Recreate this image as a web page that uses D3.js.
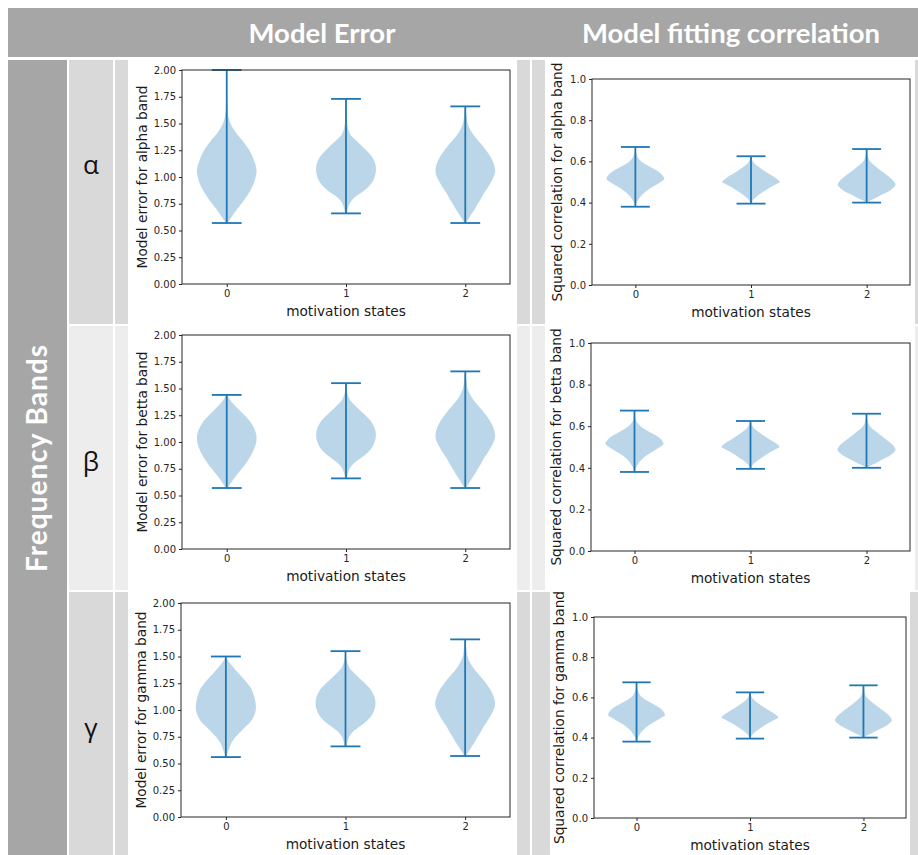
<!DOCTYPE html>
<html lang="en">
<head>
<meta charset="UTF-8">
<title>Model error and fitting correlation per band</title>
<script src="https://cdn.jsdelivr.net/npm/d3@7"></script>
<style>
    body{margin:0;background:#fff;}
    svg{display:block;}
</style>
</head>
<body>
<svg></svg>
<script>
    // categories / labels
    var states = [0, 1, 2];
    var bandNames = ["alpha", "betta", "gamma"];
    var greekLetters = ["α", "β", "γ"];
    var columnTitles = ["Model Error", "Model fitting correlation"];
    var errorTicks = [0, 0.25, 0.5, 0.75, 1.0, 1.25, 1.5, 1.75, 2.0];
    var corrTicks = [0, 0.2, 0.4, 0.6, 0.8, 1.0];

    // violin outlines: [value, relative width]
    // first / last entry = min / max whisker
    var errorAlpha = [
        [[0.57,0.03],[0.60,0.10],[0.65,0.22],[0.70,0.35],[0.75,0.49],[0.80,0.62],[0.85,0.74],[0.90,0.84],[0.95,0.92],[1.00,0.97],[1.05,1.00],[1.10,0.98],[1.15,0.92],[1.20,0.85],[1.25,0.76],[1.30,0.64],[1.35,0.50],[1.40,0.35],[1.45,0.22],[1.50,0.13],[1.55,0.07],[1.60,0.04],[1.70,0.02],[1.85,0.01],[2.00,0.0]],
        [[0.66,0.03],[0.70,0.06],[0.75,0.12],[0.80,0.25],[0.85,0.50],[0.90,0.72],[0.95,0.88],[1.00,0.96],[1.05,1.00],[1.10,1.00],[1.15,0.95],[1.20,0.84],[1.25,0.68],[1.30,0.50],[1.35,0.30],[1.40,0.14],[1.45,0.07],[1.50,0.04],[1.60,0.02],[1.73,0.0]],
        [[0.57,0.03],[0.60,0.09],[0.65,0.20],[0.70,0.32],[0.75,0.42],[0.80,0.53],[0.85,0.63],[0.90,0.75],[0.95,0.86],[1.00,0.95],[1.05,1.00],[1.10,0.98],[1.15,0.92],[1.20,0.82],[1.25,0.70],[1.30,0.56],[1.35,0.40],[1.40,0.26],[1.45,0.15],[1.50,0.08],[1.55,0.05],[1.60,0.03],[1.66,0.0]]
    ];
    var errorBeta = [
        [[0.57,0.03],[0.60,0.10],[0.65,0.22],[0.70,0.36],[0.75,0.50],[0.80,0.64],[0.85,0.76],[0.90,0.86],[0.95,0.94],[1.00,0.99],[1.05,1.00],[1.10,0.96],[1.15,0.88],[1.20,0.76],[1.25,0.60],[1.30,0.42],[1.35,0.24],[1.40,0.10],[1.44,0.02]],
        [[0.66,0.03],[0.70,0.06],[0.75,0.12],[0.80,0.26],[0.85,0.50],[0.90,0.72],[0.95,0.88],[1.00,0.96],[1.05,1.00],[1.10,0.99],[1.15,0.93],[1.20,0.82],[1.25,0.65],[1.30,0.46],[1.35,0.27],[1.40,0.12],[1.45,0.05],[1.50,0.02],[1.55,0.0]],
        [[0.57,0.03],[0.60,0.09],[0.65,0.20],[0.70,0.32],[0.75,0.42],[0.80,0.53],[0.85,0.63],[0.90,0.75],[0.95,0.86],[1.00,0.95],[1.05,1.00],[1.10,0.98],[1.15,0.92],[1.20,0.82],[1.25,0.70],[1.30,0.56],[1.35,0.40],[1.40,0.26],[1.45,0.15],[1.50,0.08],[1.55,0.05],[1.60,0.03],[1.66,0.0]]
    ];
    var errorGamma = [
        [[0.56,0.02],[0.60,0.06],[0.65,0.12],[0.70,0.20],[0.75,0.33],[0.80,0.50],[0.85,0.68],[0.90,0.85],[0.95,0.95],[1.00,1.00],[1.05,1.00],[1.10,0.97],[1.15,0.92],[1.20,0.85],[1.25,0.72],[1.30,0.57],[1.35,0.40],[1.40,0.25],[1.45,0.10],[1.50,0.0]],
        [[0.66,0.03],[0.70,0.06],[0.75,0.12],[0.80,0.26],[0.85,0.50],[0.90,0.72],[0.95,0.88],[1.00,0.96],[1.05,1.00],[1.10,0.99],[1.15,0.93],[1.20,0.82],[1.25,0.65],[1.30,0.46],[1.35,0.27],[1.40,0.12],[1.45,0.05],[1.50,0.02],[1.55,0.0]],
        [[0.57,0.03],[0.60,0.09],[0.65,0.20],[0.70,0.32],[0.75,0.42],[0.80,0.53],[0.85,0.63],[0.90,0.75],[0.95,0.86],[1.00,0.95],[1.05,1.00],[1.10,0.98],[1.15,0.92],[1.20,0.82],[1.25,0.70],[1.30,0.56],[1.35,0.40],[1.40,0.26],[1.45,0.15],[1.50,0.08],[1.55,0.05],[1.60,0.03],[1.66,0.0]]
    ];
    var corrAlpha = [
        [[0.38,0.01],[0.40,0.05],[0.42,0.13],[0.44,0.25],[0.46,0.42],[0.48,0.65],[0.50,0.88],[0.515,1.0],[0.53,0.95],[0.55,0.80],[0.57,0.55],[0.59,0.30],[0.61,0.13],[0.63,0.05],[0.65,0.02],[0.67,0.0]],
        [[0.395,0.01],[0.41,0.06],[0.43,0.20],[0.45,0.40],[0.47,0.62],[0.49,0.88],[0.50,1.0],[0.52,0.85],[0.54,0.62],[0.56,0.40],[0.58,0.20],[0.60,0.07],[0.625,0.0]],
        [[0.40,0.02],[0.41,0.12],[0.42,0.28],[0.44,0.55],[0.46,0.82],[0.485,1.0],[0.50,0.96],[0.52,0.82],[0.54,0.64],[0.56,0.45],[0.58,0.27],[0.60,0.12],[0.62,0.05],[0.66,0.0]]
    ];
    var corrBeta = [
        [[0.38,0.01],[0.40,0.05],[0.42,0.13],[0.44,0.25],[0.46,0.42],[0.48,0.65],[0.50,0.88],[0.515,1.0],[0.53,0.95],[0.55,0.80],[0.57,0.55],[0.59,0.30],[0.61,0.13],[0.63,0.05],[0.65,0.02],[0.675,0.0]],
        [[0.395,0.01],[0.41,0.06],[0.43,0.20],[0.45,0.40],[0.47,0.62],[0.49,0.88],[0.50,1.0],[0.52,0.85],[0.54,0.62],[0.56,0.40],[0.58,0.20],[0.60,0.07],[0.625,0.0]],
        [[0.40,0.02],[0.41,0.12],[0.42,0.28],[0.44,0.55],[0.46,0.82],[0.485,1.0],[0.50,0.96],[0.52,0.82],[0.54,0.64],[0.56,0.45],[0.58,0.27],[0.60,0.12],[0.62,0.05],[0.66,0.0]]
    ];
    var corrGamma = [
        [[0.38,0.01],[0.40,0.05],[0.42,0.13],[0.44,0.25],[0.46,0.42],[0.48,0.65],[0.50,0.88],[0.51,1.0],[0.53,0.95],[0.55,0.80],[0.57,0.55],[0.59,0.30],[0.61,0.13],[0.63,0.05],[0.65,0.02],[0.675,0.0]],
        [[0.395,0.01],[0.41,0.06],[0.43,0.20],[0.45,0.40],[0.47,0.62],[0.49,0.88],[0.50,1.0],[0.52,0.85],[0.54,0.62],[0.56,0.40],[0.58,0.20],[0.60,0.07],[0.625,0.0]],
        [[0.40,0.02],[0.41,0.12],[0.42,0.28],[0.44,0.55],[0.46,0.82],[0.485,1.0],[0.50,0.96],[0.52,0.82],[0.54,0.64],[0.56,0.45],[0.58,0.27],[0.60,0.12],[0.62,0.05],[0.66,0.0]]
    ];

    var errorData = [errorAlpha, errorBeta, errorGamma];
    var corrData = [corrAlpha, corrBeta, corrGamma];

    // layout (pixels) -- table cells and plot frames
    var W = 918, H = 855;
    var rowBands = [[60, 324], [326, 590], [592, 855]];
    var rowFill = ["#d9d9d9", "#ededed", "#d9d9d9"];
    var leftFrames = [
        {x0:182, x1:510, y0:70,  y1:284},
        {x0:182, x1:510, y0:335, y1:549},
        {x0:181, x1:510, y0:603, y1:817}
    ];
    var rightFrames = [
        {x0:592, x1:910, y0:79,  y1:285},
        {x0:591, x1:910, y0:343, y1:551},
        {x0:594, x1:906, y0:617, y1:818}
    ];
    var violinColor = "#1f77b4";
    var mplFont = "'DejaVu Sans', sans-serif";
    var officeFont = "Lato, 'Open Sans', sans-serif";

    var svg = d3.select("svg").attr("width", W).attr("height", H);

    //---------- table background ----------
    var bg = svg.append("g");
    bg.append("rect").attr("x", 8).attr("y", 8).attr("width", W - 8).attr("height", 49).attr("fill", "#a6a6a6");
    bg.append("rect").attr("x", 8).attr("y", 60).attr("width", 59).attr("height", H - 60).attr("fill", "#a6a6a6");
    rowBands.forEach(function(b, i){
        var h = b[1] - b[0];
        bg.append("rect").attr("x", 69).attr("y", b[0]).attr("width", 44).attr("height", h).attr("fill", rowFill[i]);
        bg.append("rect").attr("x", 115).attr("y", b[0]).attr("width", 13).attr("height", h).attr("fill", rowFill[i]);
        bg.append("rect").attr("x", 517).attr("y", b[0]).attr("width", 13).attr("height", h).attr("fill", rowFill[i]);
        bg.append("rect").attr("x", 532).attr("y", b[0]).attr("width", i == 2 ? 18 : 13).attr("height", h).attr("fill", rowFill[i]);
        var rx = i == 2 ? 910 : 915;
        bg.append("rect").attr("x", rx).attr("y", b[0]).attr("width", W - rx).attr("height", h).attr("fill", rowFill[i]);
    });

    // column headers
    var titleX = [322, 731];
    columnTitles.forEach(function(t, i){
        svg.append("text")
            .attr("x", titleX[i]).attr("y", 43)
            .attr("text-anchor", "middle")
            .attr("font-family", officeFont).attr("font-weight", "bold")
            .attr("font-size", 27.5).attr("fill", "#fff")
            .text(t);
    });

    // row header
    svg.append("text")
        .attr("transform", "translate(47,458) rotate(-90)")
        .attr("text-anchor", "middle")
        .attr("font-family", officeFont).attr("font-weight", "bold")
        .attr("font-size", 28).attr("letter-spacing", 1).attr("fill", "#fff")
        .text("Frequency Bands");

    var greekY = [165, 462, 728];
    greekLetters.forEach(function(g, i){
        svg.append("text")
            .attr("x", 91).attr("y", greekY[i])
            .attr("dy", "0.35em")
            .attr("text-anchor", "middle")
            .attr("font-family", "'Open Sans', sans-serif")
            .attr("font-size", 26).attr("fill", "#111")
            .text(g);
    });

    //---------- one violin panel ----------
    function drawPanel(frame, profiles, yDomain, ticks, fmt, ylabel, labelOffset){
        var g = svg.append("g");
        var x = d3.scaleLinear().domain([-0.375, 2.375]).range([frame.x0, frame.x1]);
        var y = d3.scaleLinear().domain(yDomain).range([frame.y1, frame.y0]);

        // violin bodies
        profiles.forEach(function(p, i){
            var cx = x(states[i]);
            var hw = x(0.25) - x(0);
            var area = d3.area()
                .curve(d3.curveCatmullRom)
                .y(function(d){ return y(d[0]); })
                .x0(function(d){ return cx - hw * d[1]; })
                .x1(function(d){ return cx + hw * d[1]; });
            g.append("path").datum(p)
                .attr("d", area)
                .attr("fill", violinColor).attr("fill-opacity", 0.3);
        });

        // whiskers + caps
        profiles.forEach(function(p, i){
            var cx = x(states[i]);
            var cap = x(0.125) - x(0);
            var lo = p[0][0], hi = p[p.length - 1][0];
            g.append("line").attr("x1", cx).attr("x2", cx)
                .attr("y1", y(lo)).attr("y2", y(hi))
                .attr("stroke", violinColor).attr("stroke-width", 1.8);
            [lo, hi].forEach(function(v){
                g.append("line").attr("x1", cx - cap).attr("x2", cx + cap)
                    .attr("y1", y(v)).attr("y2", y(v))
                    .attr("stroke", violinColor).attr("stroke-width", 1.8);
            });
        });

        // axes
        var ax = g.append("g").attr("transform", "translate(0," + frame.y1 + ")")
            .call(d3.axisBottom(x).tickValues(states).tickFormat(d3.format("d")).tickSize(3).tickPadding(3));
        var ay = g.append("g").attr("transform", "translate(" + frame.x0 + ",0)")
            .call(d3.axisLeft(y).tickValues(ticks).tickFormat(d3.format(fmt)).tickSize(3).tickPadding(3));
        [ax, ay].forEach(function(a){
            a.select(".domain").remove();
            a.selectAll("text").attr("font-family", mplFont).attr("font-size", 10).attr("fill", "#262626");
            a.selectAll("line").attr("stroke", "#262626");
        });

        // frame (spines)
        g.append("rect")
            .attr("x", frame.x0).attr("y", frame.y0)
            .attr("width", frame.x1 - frame.x0).attr("height", frame.y1 - frame.y0)
            .attr("fill", "none").attr("stroke", "#262626").attr("stroke-width", 1);

        // labels
        g.append("text")
            .attr("x", (frame.x0 + frame.x1) / 2).attr("y", frame.y1 + 32)
            .attr("text-anchor", "middle")
            .attr("font-family", mplFont).attr("font-size", 13.7).attr("fill", "#1a1a1a")
            .text("motivation states");
        g.append("text")
            .attr("transform", "translate(" + (frame.x0 - labelOffset) + "," + ((frame.y0 + frame.y1) / 2) + ") rotate(-90)")
            .attr("text-anchor", "middle")
            .attr("font-family", mplFont).attr("font-size", 13.7).attr("fill", "#1a1a1a")
            .text(ylabel);
    }

    for(var r = 0; r < 3; ++r){
        drawPanel(leftFrames[r], errorData[r], [0, 2], errorTicks, ".2f",
            "Model error for " + bandNames[r] + " band", 35);
        drawPanel(rightFrames[r], corrData[r], [0, 1], corrTicks, ".1f",
            "Squared correlation for " + bandNames[r] + " band", 30);
    }
</script>
</body>
</html>
